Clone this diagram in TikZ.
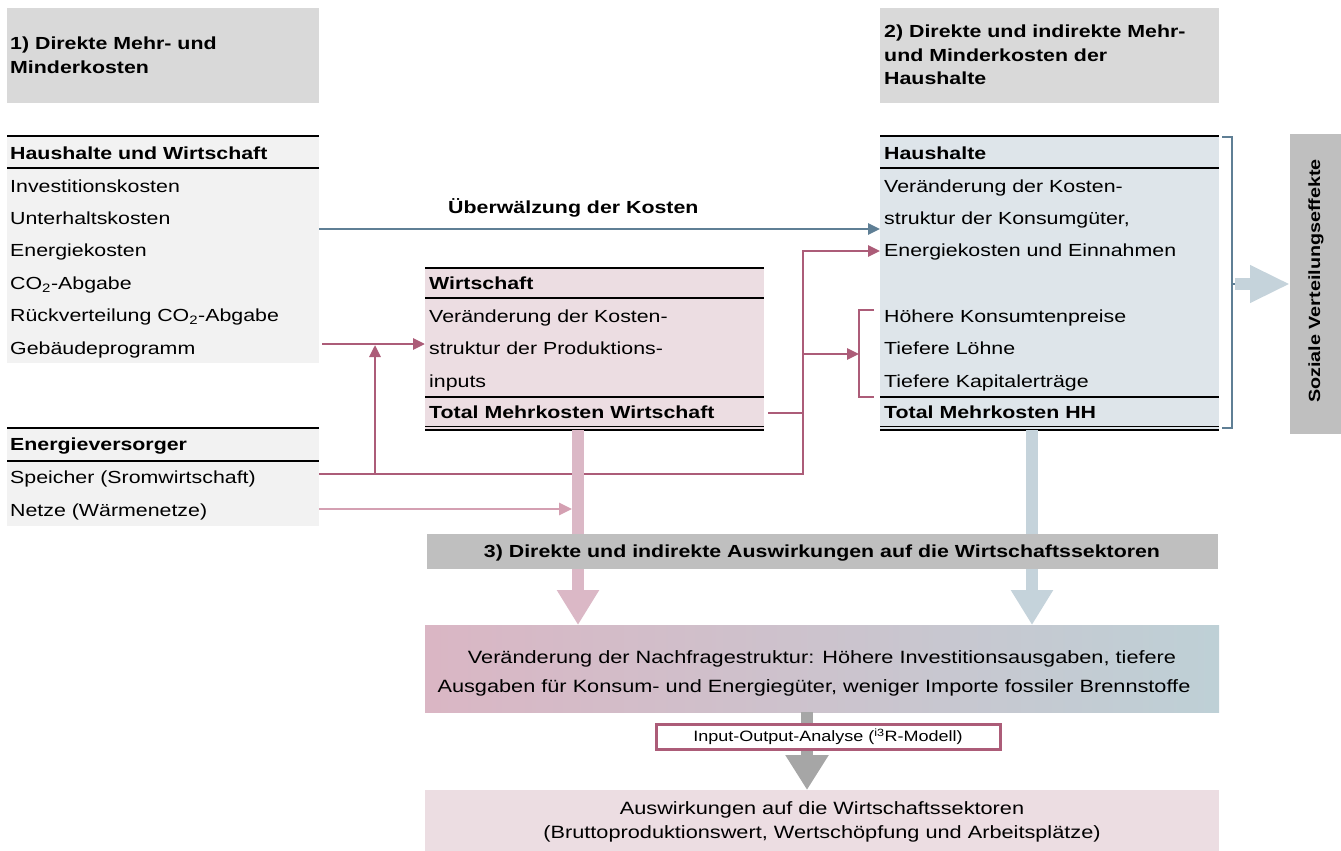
\documentclass[tikz,border=0pt]{standalone}
\usepackage{fontspec}
\setmainfont{Liberation Sans}[FakeStretch=1.22]
\newfontfamily\narrowfont{Liberation Sans}[FakeStretch=1.2]
\usetikzlibrary{arrows.meta}
\definecolor{hdrgray}{RGB}{217,217,217}
\definecolor{boxgray}{RGB}{242,242,242}
\definecolor{pinkbox}{RGB}{236,221,226}
\definecolor{bluebox}{RGB}{222,229,234}
\definecolor{mauve}{RGB}{172,92,120}
\definecolor{lightmauve}{RGB}{212,160,178}
\definecolor{pinkbar}{RGB}{219,184,198}
\definecolor{bluebar}{RGB}{197,211,219}
\definecolor{steel}{RGB}{95,127,149}
\definecolor{midgray}{RGB}{191,191,191}
\definecolor{arrgray}{RGB}{166,166,166}
\definecolor{gradL}{RGB}{218,182,196}
\definecolor{gradR}{RGB}{190,208,214}
\begin{document}
\begin{tikzpicture}[x=1pt,y=-1pt,
  bg/.style={inner sep=0pt, outer sep=0pt, anchor=north west},
  txt/.style={inner sep=0pt, anchor=base west, font=\fontsize{17.5}{23.5}\selectfont},
  btxt/.style={inner sep=0pt, anchor=base west, font=\bfseries\fontsize{17.5}{23.5}\selectfont},
  ctxt/.style={inner sep=0pt, anchor=base, font=\fontsize{17.8}{23.5}\selectfont},
  rule/.style={line width=2.4pt, black},
  thin rule/.style={line width=1.3pt, black},
  pinkline/.style={mauve, line width=2.8pt},
  pinkarrow/.style={pinkline, -{Triangle[length=12pt,width=11pt]}},
]
\useasboundingbox (0,0) rectangle (1341,851);

% ---------- headers ----------
\node[bg, fill=hdrgray, minimum width=312pt, minimum height=95pt] (h1) at (7,8) {};
\node[btxt] (h1a) at (10,49.5) {1) Direkte Mehr- und};
\node[btxt] (h1b) at (10,73.5) {Minderkosten};
\node[bg, fill=hdrgray, minimum width=339pt, minimum height=95pt] (h2) at (880,8) {};
\node[btxt] (h2a) at (884,37.5) {2) Direkte und indirekte Mehr-};
\node[btxt] (h2b) at (884,61.5) {und Minderkosten der};
\node[btxt] (h2c) at (884,84.5) {Haushalte};

% ---------- left box 1 ----------
\node[bg, fill=boxgray, minimum width=312pt, minimum height=227pt] (lb1) at (7,136) {};
\draw[rule] (7,136) -- (319,136);
\draw[rule] (7,168) -- (319,168);
\node[btxt] (lb1h) at (10,159.5) {Haushalte und Wirtschaft};
\node[txt] (lb1a) at (10,192.5) {Investitionskosten};
\node[txt] (lb1b) at (10,224.5) {Unterhaltskosten};
\node[txt] (lb1c) at (10,256.5) {Energiekosten};
\node[txt] (lb1d) at (10,289.5) {CO\textsubscript{2}-Abgabe};
\node[txt] (lb1e) at (10,321.5) {Rückverteilung CO\textsubscript{2}-Abgabe};
\node[txt] (lb1f) at (10,354.5) {Gebäudeprogramm};

% ---------- left box 2 ----------
\node[bg, fill=boxgray, minimum width=312pt, minimum height=98pt] (lb2) at (7,428) {};
\draw[rule] (7,428) -- (319,428);
\draw[rule] (7,461) -- (319,461);
\node[btxt] (lb2h) at (10,450.5) {Energieversorger};
\node[txt] (lb2a) at (10,483.5) {Speicher (Sromwirtschaft)};
\node[txt] (lb2b) at (10,516.5) {Netze (Wärmenetze)};

% ---------- Wirtschaft box ----------
\node[bg, fill=pinkbox, minimum width=339pt, minimum height=162pt] (wb) at (425,268) {};
\draw[rule] (425,268) -- (764,268);
\draw[rule] (425,298) -- (764,298);
\draw[rule] (425,397) -- (764,397);
\draw[thin rule] (425,426.5) -- (764,426.5);
\draw[thin rule] (425,430) -- (764,430);
\node[btxt] (wbh) at (429,289.5) {Wirtschaft};
\node[txt] (wba) at (429,322.5) {Veränderung der Kosten-};
\node[txt] (wbb) at (429,354.5) {struktur der Produktions-};
\node[txt] (wbc) at (429,387.5) {inputs};
\node[btxt] (wbt) at (429,418.5) {Total Mehrkosten Wirtschaft};

% ---------- Haushalte box ----------
\node[bg, fill=bluebox, minimum width=339pt, minimum height=294pt] (hb) at (880,136) {};
\draw[rule] (880,136) -- (1219,136);
\draw[rule] (880,168) -- (1219,168);
\draw[rule] (880,397) -- (1219,397);
\draw[thin rule] (880,426.5) -- (1219,426.5);
\draw[thin rule] (880,430) -- (1219,430);
\node[btxt] (hbh) at (884,159.5) {Haushalte};
\node[txt] (hba) at (884,192.5) {Veränderung der Kosten-};
\node[txt] (hbb) at (884,224.5) {struktur der Konsumgüter,};
\node[txt] (hbc) at (884,256.5) {Energiekosten und Einnahmen};
\node[txt] (hbd) at (884,322.5) {Höhere Konsumtenpreise};
\node[txt] (hbe) at (884,354.5) {Tiefere Löhne};
\node[txt] (hbf) at (884,387.5) {Tiefere Kapitalerträge};
\node[btxt] (hbt) at (884,418.5) {Total Mehrkosten HH};

% ---------- Soziale Verteilungseffekte ----------
\node[bg, fill=midgray, minimum width=51pt, minimum height=300pt] (soz) at (1290,134) {};
\node[inner sep=0pt, rotate=90, font=\bfseries\fontsize{16.2}{18}\selectfont] (soztxt) at (1316,281) {Soziale Verteilungseffekte};
\draw[steel, line width=2.4pt] (1222,137) -- (1232,137) -- (1232,428) -- (1222,428);
\coordinate (bn) at (1235,284);
\draw[steel, line width=2.4pt] (1232,284) -- (bn);
\draw[bluebar, line width=12pt, -{Triangle[length=40pt,width=35pt]}] (bn) -- (soz.west |- bn);

% ---------- Überwälzung ----------
\coordinate (ueA) at (319,229);
\draw[steel, line width=2.6pt, -{Triangle[length=12pt,width=11pt]}] (ueA) -- (hb.west |- ueA);
\node[btxt] (uelab) at (448,213.5) {Überwälzung der Kosten};

% ---------- pink connectors ----------
\coordinate (gA) at (322,344);
\draw[pinkarrow] (gA) -- (wb.west |- gA);
\coordinate (sA) at (319,474);
\coordinate (sJ) at (803,474);
\coordinate (sB) at (803,251);
\draw[pinkarrow] (sA) -- (sJ) -- (sB) -- (hb.west |- sB);
\coordinate (vJ) at (375,474);
\draw[pinkarrow] (vJ) -- (375,345);
\coordinate (tA) at (768,413);
\draw[pinkline] (tA) -- (803,413);
\coordinate (brJ) at (803,354);
\coordinate (brT) at (859,354);
\draw[pinkarrow] (brJ) -- (brT);
\draw[pinkline] (874,310) -- (859,310) -- (859,397) -- (874,397);
\coordinate (nA) at (319,509);
\draw[lightmauve, line width=2.8pt, -{Triangle[length=13pt,width=12pt]}] (nA) -- (572,509);

% ---------- lower section ----------
\node[bg, shade, left color=gradL, right color=gradR, minimum width=794pt, minimum height=87pt] (nf) at (425,625) {};
\coordinate (pbA) at (578,430);
\coordinate (bbA) at (1032,430);
\draw[pinkbar, line width=12.5pt, -{Triangle[length=35pt,width=40pt]}] (pbA) -- (nf.north -| pbA);
\draw[bluebar, line width=12.5pt, -{Triangle[length=35pt,width=40pt]}] (bbA) -- (nf.north -| bbA);
\node[bg, fill=midgray, minimum width=791pt, minimum height=35pt] (sec3) at (427,534) {};
\node[inner sep=0pt, anchor=base, font=\bfseries\fontsize{17.5}{23.5}\selectfont] (sec3t) at (822,557.5) {3) Direkte und indirekte Auswirkungen auf die Wirtschaftssektoren};
\node[ctxt] (nfa) at (822,663.5) {Veränderung der Nachfragestruktur: Höhere Investitionsausgaben, tiefere};
\node[ctxt] (nfb) at (814,692.5) {Ausgaben für Konsum- und Energiegüter, weniger Importe fossiler Brennstoffe};

\node[bg, fill=pinkbox, minimum width=794pt, minimum height=61pt] (aw) at (425,790) {};
\node[ctxt] (awa) at (822,814.5) {Auswirkungen auf die Wirtschaftssektoren};
\node[ctxt] (awb) at (822,838.5) {(Bruttoproduktionswert, Wertschöpfung und Arbeitsplätze)};

\coordinate (gaA) at (807,712);
\draw[arrgray, line width=12.5pt, -{Triangle[length=35pt,width=41pt]}] (gaA) -- (aw.north -| gaA);
\node[fill=white, draw=mauve, line width=3pt, minimum width=344pt, minimum height=25pt, inner sep=0pt,
  font=\narrowfont\fontsize{15}{17}\selectfont] (io) at (828,736.5) {Input-Output-Analyse (\textsuperscript{i3}R-Modell)};
\end{tikzpicture}
\end{document}
